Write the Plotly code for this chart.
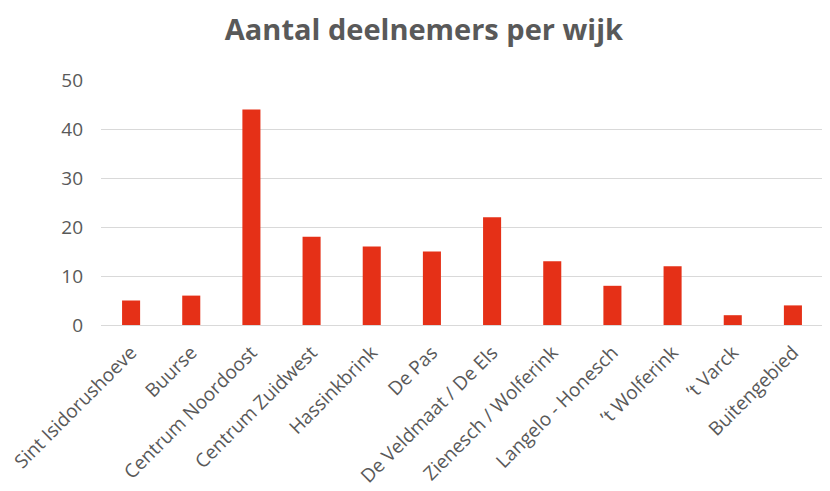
import plotly.graph_objects as go

categories = ["Sint Isidorushoeve", "Buurse", "Centrum Noordoost", "Centrum Zuidwest",
              "Hassinkbrink", "De Pas", "De Veldmaat / De Els", "Zienesch / Wolferink",
              "Langelo - Honesch", "\u2019t Wolferink", "\u2019t Varck", "Buitengebied"]
values = [5, 6, 44, 18, 16, 15, 22, 13, 8, 12, 2, 4]
y_ticks = [0, 10, 20, 30, 40, 50]

fig = go.Figure(go.Bar(x=categories, y=values, marker_color="#E53017",
                       marker_line_width=0))
fig.update_layout(
    width=822, height=483,
    paper_bgcolor="white", plot_bgcolor="white",
    margin=dict(l=93, r=7, t=72, b=166, autoexpand=False),
    title=dict(text="<b>Aantal deelnemers per wijk</b>", x=0.506, xanchor="center",
               y=0.954, yanchor="middle",
               font=dict(family="Open Sans", size=29, color="#595959")),
    bargap=0.7,
    showlegend=False,
)
fig.update_xaxes(tickangle=-45, tickfont=dict(family="Open Sans", size=19, color="#595959"),
                 showline=True, linecolor="#d9d9d9", linewidth=1, ticks="", automargin=False,
                 ticklabelstandoff=8)
fig.update_yaxes(range=[0, 50], tickvals=y_ticks, showgrid=True, gridcolor="#d9d9d9",
                 zeroline=False, tickfont=dict(family="Open Sans", size=19, color="#595959"),
                 ticklabelstandoff=17, automargin=False)
fig.write_html("out.html")
